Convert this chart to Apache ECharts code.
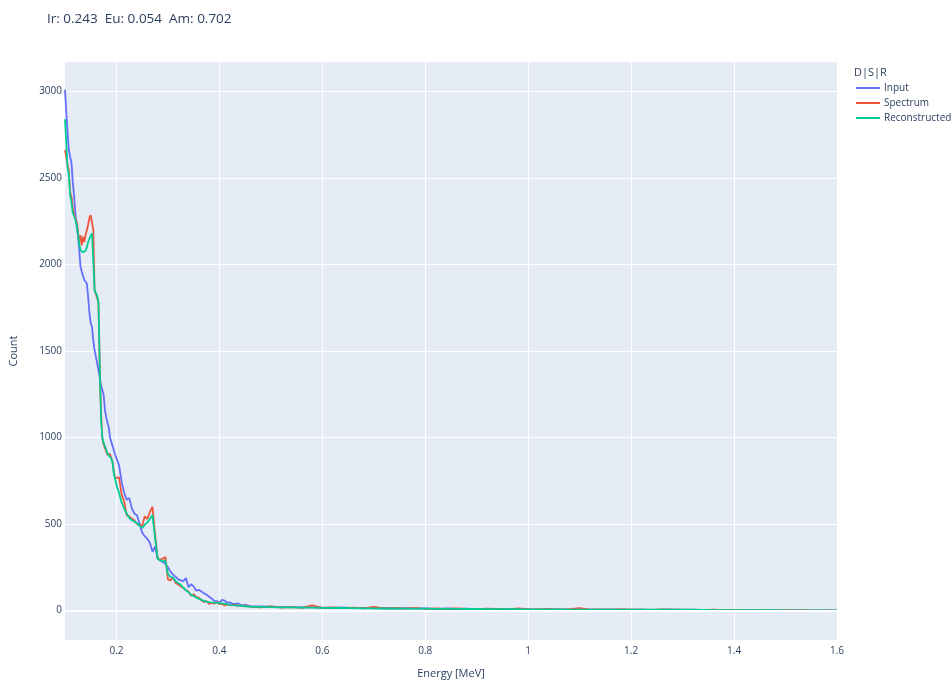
<!DOCTYPE html>
<html>
<head>
<meta charset="utf-8">
<script src="https://cdn.jsdelivr.net/npm/echarts@6.0.0/dist/echarts.min.js"></script>
<style>
  html, body { margin: 0; padding: 0; background: #fff; }
  #chart { width: 952px; height: 684px; }
</style>
</head>
<body>
<div id="chart"></div>
<script>
// energy bins [MeV]
const energy = [
  0.1, 0.1025, 0.105, 0.1075, 0.11, 0.1125, 0.115, 0.1175, 0.12, 0.1225,
  0.125, 0.1275, 0.13, 0.1325, 0.135, 0.1375, 0.14, 0.1425, 0.145, 0.1475,
  0.15, 0.1525, 0.155, 0.1575, 0.16, 0.1625, 0.165, 0.1675, 0.17, 0.1725,
  0.175, 0.1775, 0.18, 0.1825, 0.185, 0.1875, 0.19, 0.1925, 0.195, 0.1975,
  0.2,
  0.205, 0.21, 0.215, 0.22, 0.225, 0.23, 0.235, 0.24, 0.245, 0.25,
  0.255, 0.26, 0.265, 0.27, 0.275, 0.28, 0.285, 0.29, 0.295, 0.3,
  0.305, 0.31, 0.315, 0.32, 0.325, 0.33, 0.335, 0.34, 0.345, 0.35,
  0.355, 0.36, 0.365, 0.37, 0.375, 0.38, 0.385, 0.39, 0.395, 0.4,
  0.405, 0.41, 0.415, 0.42, 0.425, 0.43, 0.435, 0.44, 0.445, 0.45,
  0.46, 0.48, 0.5, 0.52, 0.54, 0.56, 0.58, 0.6, 0.62, 0.64,
  0.66, 0.68, 0.7, 0.72, 0.74, 0.76, 0.78, 0.8, 0.82, 0.84,
  0.86, 0.88, 0.9, 0.92, 0.94, 0.96, 0.98, 1.0, 1.02, 1.04,
  1.06, 1.08, 1.1, 1.12, 1.14, 1.16, 1.18, 1.2, 1.22, 1.24,
  1.26, 1.28, 1.3, 1.32, 1.34, 1.36, 1.38, 1.4, 1.42, 1.44,
  1.46, 1.48, 1.5, 1.52, 1.54, 1.56, 1.58, 1.6
]

const inputCounts = [
  3010, 2880, 2760, 2660, 2620, 2590, 2480, 2400, 2300, 2230,
  2170, 2090, 1990, 1960, 1950, 1910, 1900, 1890, 1810, 1720,
  1660, 1640, 1560, 1505, 1495, 1430, 1390, 1350, 1300, 1300,
  1250, 1160, 1120, 1085, 1060, 1000, 990, 950, 925, 900,
  880,
  840, 745, 680, 640, 650, 590, 560, 550, 500, 450,
  430, 415, 390, 340, 370, 300, 290, 280, 270, 250,
  225, 208, 195, 180, 175, 170, 188, 135, 152, 140,
  115, 120, 110, 100, 92, 80, 70, 56, 55, 46,
  62, 58, 45, 48, 40, 38, 42, 35, 30, 33,
  26, 24, 22, 20, 21, 18, 19, 17, 15, 18,
  14, 16, 13, 15, 12, 14, 11, 13, 10, 12,
  9, 11, 8, 10, 9, 7, 9, 8, 6, 8,
  7, 5, 7, 6, 5, 7, 4, 6, 5, 4,
  6, 5, 4, 5, 3, 4, 2, 3, 2, 3,
  1, 2, 1, 2, 1, 0, 1, 0
]

const spectrumCounts = [
  2660, 2620, 2580, 2540, 2420, 2390, 2330, 2290, 2270, 2250,
  2200, 2130, 2170, 2110, 2160, 2130, 2170, 2180, 2230, 2270,
  2285, 2275, 2200, 1850, 1830, 1830, 1780, 1400, 1150, 1000,
  960, 940, 920, 900, 900, 905, 880, 860, 800, 765,
  770,
  770, 670, 630, 550, 545, 530, 520, 500, 495, 490,
  545, 530, 570, 600, 440, 300, 295, 300, 310, 180,
  175, 190, 160, 150, 140, 130, 118, 110, 85, 95,
  78, 75, 60, 50, 55, 38, 45, 40, 48, 38,
  40, 30, 36, 32, 30, 34, 27, 30, 25, 28,
  22, 18, 24, 17, 20, 16, 30, 15, 19, 14,
  17, 13, 22, 12, 15, 11, 16, 10, 13, 9,
  12, 10, 8, 11, 9, 7, 12, 8, 7, 9,
  6, 8, 14, 5, 7, 6, 8, 5, 6, 4,
  7, 5, 6, 4, 3, 5, 2, 4, 3, 2,
  3, 1, 2, 1, 2, 0, 1, 1
]

const reconstructedCounts = [
  2840, 2700, 2560, 2520, 2400, 2360, 2300, 2280, 2260, 2230,
  2180, 2120, 2085, 2075, 2070, 2060, 2080, 2100, 2130, 2150,
  2165, 2180, 2190, 1850, 1840, 1820, 1780, 1420, 1100, 1000,
  970, 950, 930, 910, 895, 885, 880, 850, 790, 760,
  726,
  680, 625, 590, 560, 535, 522, 515, 505, 490, 478,
  495, 510, 530, 550, 420, 300, 290, 285, 290, 210,
  195, 190, 170, 160, 148, 132, 118, 105, 92, 84,
  75, 68, 62, 56, 52, 49, 47, 46, 45, 44,
  42, 40, 36, 33, 31, 30, 29, 28, 27, 25,
  22, 21, 20, 19, 18, 17, 17, 16, 15, 15,
  14, 13, 13, 12, 12, 11, 11, 11, 10, 10,
  10, 9, 9, 8, 8, 8, 8, 7, 7, 7,
  7, 6, 6, 6, 6, 6, 5, 5, 5, 5,
  5, 5, 5, 5, 4, 3, 3, 3, 2, 2,
  2, 2, 1, 1, 1, 1, 1, 1
]

const xTicks = [0.2, 0.4, 0.6, 0.8, 1, 1.2, 1.4, 1.6]
const yTicks = [0, 500, 1000, 1500, 2000, 2500, 3000]

const font = '"Open Sans", verdana, arial, sans-serif'
const ink = '#2a3f5f'
const pairs = vals => energy.map((e, i) => [e, vals[i]])

const chart = echarts.init(document.getElementById('chart'))
chart.setOption({
  animation: false,
  title: [
    {
      text: 'Ir: 0.243  Eu: 0.054  Am: 0.702',
      left: 42, top: 7,
      textStyle: { fontFamily: font, fontSize: 13.5, fontWeight: 'normal', color: ink }
    },
    {
      text: 'D|S|R',
      left: 854, top: 67, padding: 0,
      textStyle: { fontFamily: font, fontSize: 11, fontWeight: 'normal', color: ink }
    }
  ],
  legend: {
    orient: 'vertical',
    left: 856, top: 83,
    padding: 0,
    icon: 'rect',
    itemWidth: 24, itemHeight: 2,
    itemGap: 5,
    textStyle: { fontFamily: font, fontSize: 10, color: ink, padding: [0, 0, 0, -1] },
    data: ['Input', 'Spectrum', 'Reconstructed']
  },
  grid: {
    left: 62, right: 115, top: 62, bottom: 41,
    show: true, backgroundColor: '#E5ECF6', borderWidth: 0
  },
  xAxis: {
    type: 'value', min: 0.1, max: 1.6,
    name: 'Energy [MeV]', nameLocation: 'middle', nameGap: 28,
    nameTextStyle: { fontFamily: font, fontSize: 11, color: ink },
    axisLine: { show: false },
    axisTick: { show: false, customValues: xTicks },
    axisLabel: { customValues: xTicks, formatter: v => String(v), fontFamily: font, fontSize: 10, color: ink, margin: 6 },
    splitLine: { show: true, lineStyle: { color: '#fff', width: 1 } }
  },
  yAxis: {
    type: 'value', min: -170, max: 3170,
    name: 'Count', nameLocation: 'middle', nameGap: 46,
    nameTextStyle: { fontFamily: font, fontSize: 11, color: ink },
    axisLine: { show: false },
    axisTick: { show: false, customValues: yTicks },
    axisLabel: { customValues: yTicks, formatter: v => String(v), fontFamily: font, fontSize: 10, color: ink, margin: 3 },
    splitLine: { show: true, lineStyle: { color: '#fff', width: 1 } }
  },
  series: [
    {
      name: 'Input', type: 'line', showSymbol: false,
      data: pairs(inputCounts),
      lineStyle: { color: '#636efa', width: 1.8 }, itemStyle: { color: '#636efa' },
      markLine: {
        silent: true, symbol: ['none', 'none'], label: { show: false },
        lineStyle: { color: '#fff', width: 2, type: 'solid' },
        data: [{ yAxis: 0 }]
      }
    },
    {
      name: 'Spectrum', type: 'line', showSymbol: false,
      data: pairs(spectrumCounts),
      lineStyle: { color: '#EF553B', width: 1.8 }, itemStyle: { color: '#EF553B' }
    },
    {
      name: 'Reconstructed', type: 'line', showSymbol: false,
      data: pairs(reconstructedCounts),
      lineStyle: { color: '#00cc96', width: 1.8 }, itemStyle: { color: '#00cc96' }
    }
  ]
})
</script>
</body>
</html>
